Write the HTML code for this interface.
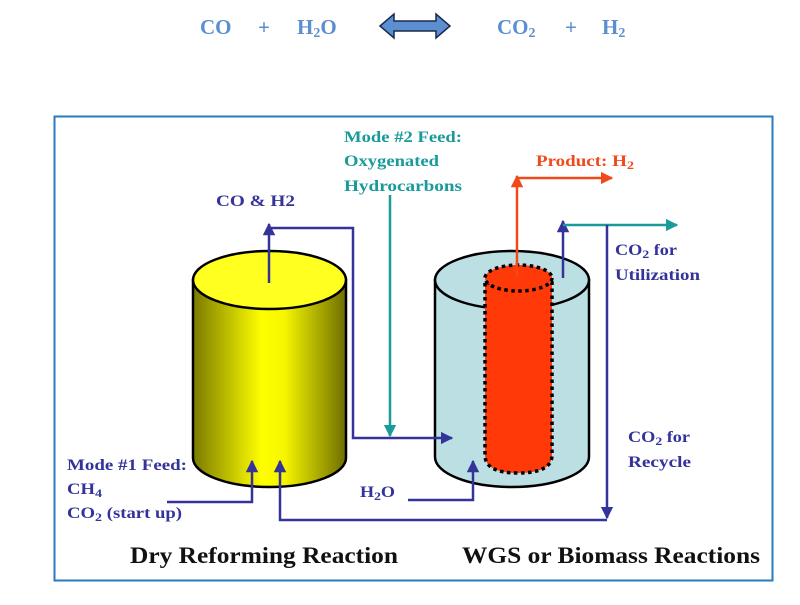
<!DOCTYPE html>
<html><head><meta charset="utf-8"><style>
body{margin:0;background:#fff;}
svg text{font-family:"Liberation Serif",serif;font-weight:bold;}
</style></head><body>
<svg width="800" height="600" viewBox="0 0 800 600" xmlns="http://www.w3.org/2000/svg">
<defs>
<linearGradient id="yg" x1="0" x2="1" y1="0" y2="0">
<stop offset="0" stop-color="#7a7a00"/><stop offset="0.45" stop-color="#ffff00"/><stop offset="0.6" stop-color="#f5f500"/><stop offset="1" stop-color="#6e6e00"/>
</linearGradient>
<marker id="ab" viewBox="0 0 10 10" refX="9" refY="5" markerWidth="5" markerHeight="5" orient="auto"><path d="M0,0L10,5L0,10z" fill="#33339a"/></marker>
<marker id="at" viewBox="0 0 10 10" refX="9" refY="5" markerWidth="5" markerHeight="5" orient="auto"><path d="M0,0L10,5L0,10z" fill="#1a9a9a"/></marker>
<marker id="ar" viewBox="0 0 10 10" refX="9" refY="5" markerWidth="5" markerHeight="5" orient="auto"><path d="M0,0L10,5L0,10z" fill="#f04a1a"/></marker>
</defs>
<g fill="#5b8fd0" font-size="21">
<text x="200" y="34">CO</text><text x="258" y="34">+</text>
<text x="297" y="34">H<tspan font-size="14" dy="3">2</tspan><tspan dy="-3">O</tspan></text>
<text x="497" y="34">CO<tspan font-size="14" dy="3">2</tspan></text><text x="565" y="34">+</text>
<text x="602" y="34">H<tspan font-size="14" dy="3">2</tspan></text>
</g>
<path d="M380,26 L394,14 L394,21 L436,21 L436,14 L450,26 L436,38 L436,31 L394,31 L394,38 Z" fill="#5b8fd0" stroke="#1a2a4a" stroke-width="1.5"/>
<rect x="54.5" y="116.5" width="718" height="464" fill="none" stroke="#2a7ac0" stroke-width="2"/>
<path d="M193,280 L193,458 A76.5,29 0 0 0 346,458 L346,280 Z" fill="url(#yg)" stroke="#000" stroke-width="2.5"/>
<ellipse cx="269.5" cy="280" rx="76.5" ry="29" fill="#ffff20" stroke="#000" stroke-width="2.5"/>
<path d="M435,280 L435,457 A77,30 0 0 0 589,457 L589,280 Z" fill="#bcdfe3" stroke="#000" stroke-width="2.5"/>
<ellipse cx="512" cy="280" rx="77" ry="29" fill="#bcdfe3" stroke="#000" stroke-width="2.5"/>
<path d="M485,283 L485,455 Q485,473 518,473 Q552,473 552,455 L552,283 Z" fill="#ff3a08" stroke="#000" stroke-width="3.5" stroke-dasharray="3.5,3.5"/>
<ellipse cx="518.5" cy="278" rx="33.5" ry="13" fill="#ff3a08" stroke="#000" stroke-width="3.5" stroke-dasharray="3.5,3.5"/>
<g fill="none" stroke-width="2.5">
<path d="M269,283 L269,224" stroke="#33339a" marker-end="url(#ab)"/>
<path d="M269,228 L353,228 L353,438 L452,438" stroke="#33339a" marker-end="url(#ab)"/>
<path d="M390,195 L390,436" stroke="#1a9a9a" marker-end="url(#at)"/>
<path d="M517,277 L517,176" stroke="#f04a1a" marker-end="url(#ar)"/>
<path d="M517,178 L612,178" stroke="#f04a1a" marker-end="url(#ar)"/>
<path d="M563,278 L563,221" stroke="#33339a" marker-end="url(#ab)"/>
<path d="M563,225 L677,225" stroke="#1a9a9a" marker-end="url(#at)"/>
<path d="M607,225 L607,518" stroke="#33339a" marker-end="url(#ab)"/>
<path d="M607,520 L280,520 L280,461" stroke="#33339a" marker-end="url(#ab)"/>
<path d="M167,502 L252,502 L252,461" stroke="#33339a" marker-end="url(#ab)"/>
<path d="M408,500 L473,500 L473,461" stroke="#33339a" marker-end="url(#ab)"/>
</g>
<g font-size="16" fill="#1a9a9a">
<text x="344" y="142" textLength="118" lengthAdjust="spacingAndGlyphs">Mode #2 Feed:</text>
<text x="344" y="166" textLength="95" lengthAdjust="spacingAndGlyphs">Oxygenated</text>
<text x="344" y="191" textLength="118" lengthAdjust="spacingAndGlyphs">Hydrocarbons</text>
</g>
<text x="536" y="166" font-size="16" fill="#f04a1a" textLength="98" lengthAdjust="spacingAndGlyphs">Product: H<tspan font-size="12" dy="3">2</tspan></text>
<g font-size="16" fill="#33339a">
<text x="216" y="206" textLength="79" lengthAdjust="spacingAndGlyphs">CO &amp; H2</text>
<text x="615" y="255" textLength="62" lengthAdjust="spacingAndGlyphs">CO<tspan font-size="12" dy="3">2</tspan><tspan dy="-3"> for</tspan></text>
<text x="615" y="280" textLength="85" lengthAdjust="spacingAndGlyphs">Utilization</text>
<text x="628" y="442" textLength="62" lengthAdjust="spacingAndGlyphs">CO<tspan font-size="12" dy="3">2</tspan><tspan dy="-3"> for</tspan></text>
<text x="628" y="467" textLength="63" lengthAdjust="spacingAndGlyphs">Recycle</text>
<text x="67" y="470" textLength="120" lengthAdjust="spacingAndGlyphs">Mode #1 Feed:</text>
<text x="67" y="494" textLength="35" lengthAdjust="spacingAndGlyphs">CH<tspan font-size="12" dy="3">4</tspan></text>
<text x="67" y="518" textLength="115" lengthAdjust="spacingAndGlyphs">CO<tspan font-size="12" dy="3">2</tspan><tspan dy="-3"> (start up)</tspan></text>
<text x="360" y="497" textLength="35" lengthAdjust="spacingAndGlyphs">H<tspan font-size="12" dy="3">2</tspan><tspan dy="-3">O</tspan></text>
</g>
<g font-size="23" fill="#111">
<text x="130" y="563" textLength="268" lengthAdjust="spacingAndGlyphs">Dry Reforming Reaction</text>
<text x="462" y="563" textLength="298" lengthAdjust="spacingAndGlyphs">WGS or Biomass Reactions</text>
</g>
</svg>
</body></html>
